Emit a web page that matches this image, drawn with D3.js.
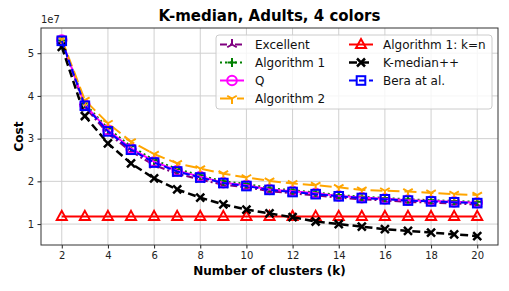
<!DOCTYPE html>
<html>
<head>
<meta charset="utf-8">
<script src="https://cdn.jsdelivr.net/npm/d3@7"></script>
<style>
body { margin: 0; background: #fff; }
text { font-family: "DejaVu Sans", sans-serif; }
</style>
</head>
<body>
<script>
// cost values are in units of 1e7
var ks = [2, 3, 4, 5, 6, 7, 8, 9, 10, 11, 12, 13, 14, 15, 16, 17, 18, 19, 20];
var excellent = [5.28, 3.74, 3.12, 2.70, 2.38, 2.18, 2.04, 1.92, 1.86, 1.77, 1.72, 1.67, 1.62, 1.58, 1.55, 1.52, 1.50, 1.48, 1.46];
var algo1 = [5.30, 3.82, 3.24, 2.82, 2.50, 2.29, 2.14, 2.00, 1.94, 1.84, 1.79, 1.74, 1.68, 1.64, 1.61, 1.58, 1.56, 1.54, 1.52];
var q = [5.31, 3.79, 3.20, 2.77, 2.46, 2.25, 2.11, 1.97, 1.91, 1.81, 1.77, 1.72, 1.66, 1.62, 1.59, 1.56, 1.54, 1.52, 1.50];
var algo2 = [5.33, 3.90, 3.36, 2.93, 2.64, 2.42, 2.30, 2.18, 2.09, 2.01, 1.95, 1.91, 1.86, 1.80, 1.78, 1.76, 1.73, 1.70, 1.68];
var algo1kn = [1.18, 1.18, 1.18, 1.18, 1.18, 1.18, 1.18, 1.18, 1.18, 1.18, 1.18, 1.18, 1.18, 1.18, 1.18, 1.18, 1.18, 1.18, 1.18];
var kmedpp = [5.15, 3.53, 2.89, 2.42, 2.07, 1.81, 1.62, 1.46, 1.34, 1.25, 1.16, 1.06, 1.00, 0.94, 0.88, 0.84, 0.80, 0.76, 0.72];
var bera = [5.29, 3.77, 3.17, 2.74, 2.44, 2.23, 2.09, 1.96, 1.89, 1.80, 1.75, 1.70, 1.65, 1.61, 1.58, 1.55, 1.53, 1.51, 1.49];
var xTicks = [2, 4, 6, 8, 10, 12, 14, 16, 18, 20];
var yTicks = [1, 2, 3, 4, 5];

var series = [
  {name: "Excellent", values: excellent, color: "purple", dash: "7,3,2,3", marker: "tri_up"},
  {name: "Algorithm 1", values: algo1, color: "green", dash: "2,3", marker: "plus"},
  {name: "Q", values: q, color: "magenta", dash: null, marker: "circle"},
  {name: "Algorithm 2", values: algo2, color: "orange", dash: "12,5", marker: "tri_down"},
  {name: "Algorithm 1: k=n", values: algo1kn, color: "red", dash: null, marker: "triangle"},
  {name: "K-median++", values: kmedpp, color: "black", dash: "8,4", marker: "x"},
  {name: "Bera at al.", values: bera, color: "blue", dash: "7,3", marker: "square"}
];

var width = 509, height = 291;
var pL = 41, pR = 498, pT = 28, pB = 245;

var svg = d3.select("body").append("svg")
    .attr("width", width)
    .attr("height", height);

var x = d3.scaleLinear().domain([1.1, 20.9]).range([pL, pR]);
var y = d3.scaleLinear().domain([0.51, 5.59]).range([pB, pT]);

// grid
svg.append("g").selectAll("line").data(xTicks).enter().append("line")
    .attr("x1", function(d) { return x(d); }).attr("x2", function(d) { return x(d); })
    .attr("y1", pT).attr("y2", pB)
    .attr("stroke", "#d0d0d0").attr("stroke-width", 1);
svg.append("g").selectAll("line").data(yTicks).enter().append("line")
    .attr("y1", function(d) { return y(d); }).attr("y2", function(d) { return y(d); })
    .attr("x1", pL).attr("x2", pR)
    .attr("stroke", "#d0d0d0").attr("stroke-width", 1);

// axes
var xAxis = svg.append("g")
    .attr("transform", "translate(0," + pB + ")")
    .call(d3.axisBottom(x).tickValues(xTicks).tickSize(3.5).tickPadding(3.5));
var yAxis = svg.append("g")
    .attr("transform", "translate(" + pL + ",0)")
    .call(d3.axisLeft(y).tickValues(yTicks).tickSize(3.5).tickPadding(3.5).tickFormat(d3.format("d")));
[xAxis, yAxis].forEach(function(a) {
  a.select(".domain").remove();
  a.selectAll("text").style("font-family", "DejaVu Sans").style("font-size", "10px").attr("fill", "#222");
  a.selectAll("line").attr("stroke", "#222");
});

svg.append("rect")
    .attr("x", pL).attr("y", pT)
    .attr("width", pR - pL).attr("height", pB - pT)
    .attr("fill", "none").attr("stroke", "#333").attr("stroke-width", 1);

svg.append("text").attr("x", pL).attr("y", pT - 5)
    .style("font-size", "10px").attr("fill", "#222").text("1e7");

// marker drawing
function drawMarker(g, type, color) {
  var r = 5.5;
  if (type === "circle") {
    g.append("circle").attr("r", 4.8).attr("fill", "none").attr("stroke", color).attr("stroke-width", 2);
  } else if (type === "square") {
    g.append("rect").attr("x", -4.3).attr("y", -4.3).attr("width", 8.6).attr("height", 8.6)
      .attr("fill", "none").attr("stroke", color).attr("stroke-width", 2);
  } else if (type === "triangle") {
    g.append("path").attr("d", "M0,-5.5L5,3.5L-5,3.5Z")
      .attr("fill", "none").attr("stroke", color).attr("stroke-width", 2);
  } else if (type === "x") {
    g.append("path").attr("d", "M-4,-4L4,4M-4,4L4,-4")
      .attr("stroke", color).attr("stroke-width", 2.5);
  } else if (type === "plus") {
    g.append("path").attr("d", "M-4.5,0L4.5,0M0,-4.5L0,4.5")
      .attr("stroke", color).attr("stroke-width", 2);
  } else if (type === "tri_up") {
    g.append("path").attr("d", "M0,0L0,-" + r + "M0,0L" + (0.866 * r) + "," + (0.5 * r) + "M0,0L" + (-0.866 * r) + "," + (0.5 * r))
      .attr("stroke", color).attr("stroke-width", 2);
  } else if (type === "tri_down") {
    g.append("path").attr("d", "M0,0L0," + r + "M0,0L" + (0.866 * r) + "," + (-0.5 * r) + "M0,0L" + (-0.866 * r) + "," + (-0.5 * r))
      .attr("stroke", color).attr("stroke-width", 2);
  }
}

var line = d3.line().x(function(d) { return x(d[0]); }).y(function(d) { return y(d[1]); });

var plot = svg.append("g");
series.forEach(function(s) {
  var pts = ks.map(function(k, i) { return [k, s.values[i]]; });
  var g = plot.append("g");
  g.append("path").datum(pts)
    .attr("d", line)
    .attr("fill", "none")
    .attr("stroke", s.color)
    .attr("stroke-width", s.marker === "x" ? 2.5 : 2)
    .attr("stroke-dasharray", s.dash);
  g.selectAll("g.m").data(pts).enter().append("g")
    .attr("class", "m")
    .attr("transform", function(d) { return "translate(" + x(d[0]) + "," + y(d[1]) + ")"; })
    .each(function() { drawMarker(d3.select(this), s.marker, s.color); });
});

// legend
var lg = svg.append("g");
lg.append("rect").attr("x", 216).attr("y", 35).attr("width", 276).attr("height", 74)
  .attr("rx", 3).attr("fill", "white").attr("fill-opacity", 0.8)
  .attr("stroke", "#ccc").attr("stroke-width", 1);
series.forEach(function(s, i) {
  var col = i < 4 ? 0 : 1;
  var row = i < 4 ? i : i - 4;
  var hx = col ? 349 : 220;
  var cy = 44.5 + row * 18;
  var item = lg.append("g");
  item.append("line").attr("x1", hx).attr("x2", hx + 24).attr("y1", cy).attr("y2", cy)
    .attr("stroke", s.color).attr("stroke-width", s.marker === "x" ? 2.5 : 2)
    .attr("stroke-dasharray", s.dash);
  var m = item.append("g").attr("transform", "translate(" + (hx + 12) + "," + cy + ")");
  drawMarker(m, s.marker, s.color);
  item.append("text").attr("x", col ? 383 : 255).attr("y", cy + 4.3)
    .style("font-size", "12px").attr("fill", "#111").text(s.name);
});

// titles
svg.append("text").attr("x", (pL + pR) / 2).attr("y", 21)
  .attr("text-anchor", "middle").style("font-size", "15px").style("font-weight", "bold")
  .text("K-median, Adults, 4 colors");
svg.append("text").attr("x", (pL + pR) / 2).attr("y", 275)
  .attr("text-anchor", "middle").style("font-size", "12px").style("font-weight", "bold")
  .text("Number of clusters (k)");
svg.append("text").attr("transform", "translate(23," + ((pT + pB) / 2) + ") rotate(-90)")
  .attr("text-anchor", "middle").style("font-size", "12px").style("font-weight", "bold")
  .text("Cost");
</script>
</body>
</html>
